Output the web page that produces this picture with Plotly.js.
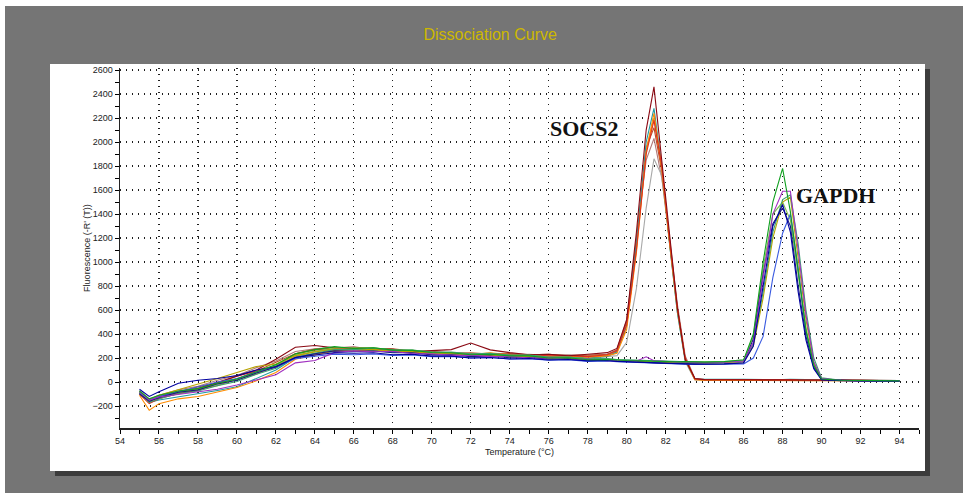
<!DOCTYPE html>
<html>
<head>
<meta charset="utf-8">
<script src="https://cdn.plot.ly/plotly-3.0.1.min.js"></script>
<style>
  html, body { margin: 0; padding: 0; background: #ffffff; }
  #chart { width: 963px; height: 493px; }
</style>
</head>
<body>
<div id="chart"></div>
<script>
// Melt temperatures (°C) shared by every well
const temperature = [55, 55.5, 56, 57, 58, 59, 60, 61, 62, 63, 64, 65, 66, 67, 68, 69, 70, 71, 72, 73, 74, 75, 76, 77, 78, 79,
  79.5, 80, 80.5, 81, 81.4, 81.8, 82.2, 82.6, 83, 83.5, 84, 85, 86,
  86.5, 87, 87.5, 88, 88.4, 88.8, 89.2, 89.6, 90, 91, 92, 93, 94];

// SOCS2 wells, derivative fluorescence -R'(T)
const socs2A = [-90, -160, -120, -80, -55, -5, 45, 100, 190, 290, 305, 285, 292, 276, 272, 255, 262, 270, 325, 268, 245, 228, 232, 218, 232, 245,
  280, 520, 1250, 2100, 2460, 1850, 1200, 620, 190, 30,
  20, 20, 18, 18, 20, 18, 20, 18, 20, 18, 15, 18, 15, 15, 12, 10];
const socs2B = [-100, -180, -140, -95, -70, -15, 25, 90, 130, 235, 268, 285, 278, 282, 262, 258, 246, 244, 232, 238, 226, 228, 218, 220, 212, 228,
  260, 480, 1100, 1900, 2180, 1800, 1180, 620, 200, 25,
  20, 22, 20, 20, 18, 20, 18, 20, 18, 18, 16, 16, 15, 14, 12, 12];
const socs2C = [-110, -235, -180, -140, -120, -80, -45, 10, 80, 190, 225, 262, 258, 272, 255, 252, 240, 245, 230, 244, 226, 224, 212, 216, 208, 218,
  240, 440, 1080, 1920, 2240, 1780, 1160, 600, 190, 20,
  15, 15, 14, 14, 15, 14, 14, 13, 14, 13, 12, 12, 12, 11, 10, 10];
const socs2D = [-80, -170, -150, -125, -95, -70, -40, 30, 100, 205, 235, 255, 252, 268, 250, 254, 236, 236, 222, 236, 220, 222, 206, 212, 200, 214,
  250, 470, 1150, 2000, 2280, 1800, 1150, 580, 180, 25,
  22, 22, 22, 20, 22, 20, 20, 22, 20, 20, 18, 18, 16, 15, 14, 12];
const socs2E = [-70, -140, -120, -75, -55, -5, 25, 80, 125, 215, 240, 260, 254, 262, 248, 248, 234, 234, 220, 224, 212, 214, 200, 204, 196, 208,
  220, 330, 780, 1450, 1860, 1720, 1150, 580, 170, 18,
  15, 15, 15, 14, 15, 14, 14, 14, 13, 13, 12, 12, 12, 11, 10, 10];
const socs2F = [-90, -150, -110, -65, -35, 15, 55, 120, 175, 255, 276, 290, 275, 280, 264, 262, 244, 246, 234, 240, 228, 232, 220, 226, 218, 232,
  270, 520, 1200, 1850, 2030, 1700, 1200, 650, 220, 30,
  20, 20, 18, 18, 18, 18, 17, 18, 17, 17, 16, 16, 15, 14, 13, 12];
const socs2G = [-95, -165, -125, -90, -40, -10, 50, 90, 165, 236, 274, 270, 284, 280, 278, 258, 256, 242, 244, 234, 238, 228, 232, 220, 228, 230,
  265, 500, 1180, 1950, 2120, 1760, 1170, 610, 200, 25,
  18, 18, 18, 17, 18, 17, 17, 17, 16, 16, 15, 15, 14, 13, 12, 12];
const socs2H = [-85, -155, -130, -100, -55, -30, 25, 65, 135, 210, 258, 266, 280, 266, 266, 248, 248, 232, 234, 226, 230, 216, 218, 208, 216, 220,
  255, 470, 1120, 1940, 2200, 1790, 1170, 600, 190, 22,
  18, 18, 17, 17, 17, 16, 16, 16, 16, 15, 15, 14, 14, 13, 12, 11];

// GAPDH wells
const gapdhA = [-75, -140, -110, -75, -55, -10, 25, 85, 145, 235, 270, 295, 280, 286, 266, 264, 246, 244, 228, 232, 218, 218, 200, 202, 186, 188,
  182, 180, 178, 175, 176, 172, 170, 168, 170, 168, 166, 170, 185,
  400, 1000, 1500, 1780, 1420, 900, 430, 140, 25,
  15, 12, 10, 10];
const gapdhB = [-80, -150, -125, -105, -80, -60, -25, 20, 60, 160, 180, 245, 260, 252, 256, 236, 236, 222, 224, 212, 214, 200, 202, 188, 192, 178,
  180, 176, 174, 210, 178, 172, 168, 166, 165, 163, 162, 165, 175,
  330, 850, 1400, 1590, 1590, 1100, 560, 170, 30,
  14, 12, 10, 10];
const gapdhC = [-60, -120, -80, -10, 15, 30, 55, 100, 130, 205, 225, 244, 240, 244, 228, 232, 216, 216, 200, 204, 192, 196, 184, 188, 176, 180,
  172, 168, 165, 160, 158, 155, 152, 150, 150, 148, 148, 150, 158,
  300, 800, 1300, 1480, 1250, 750, 350, 110, 20,
  12, 10, 10, 8];
const gapdhD = [-90, -150, -120, -80, -45, 0, 30, 85, 125, 195, 215, 232, 228, 234, 222, 226, 212, 214, 200, 204, 192, 194, 182, 186, 172, 176,
  170, 166, 162, 160, 158, 154, 150, 150, 148, 147, 146, 148, 150,
  200, 380, 870, 1240, 1400, 950, 420, 130, 25,
  14, 12, 10, 10];
const gapdhE = [-85, -145, -110, -65, -20, 30, 80, 130, 150, 220, 250, 275, 268, 272, 256, 254, 236, 236, 222, 226, 212, 214, 198, 200, 186, 188,
  180, 176, 172, 170, 168, 165, 163, 160, 160, 158, 158, 162, 170,
  300, 700, 1200, 1500, 1540, 1050, 520, 160, 30,
  14, 12, 11, 10];
const gapdhF = [-100, -160, -130, -85, -65, -15, 15, 75, 125, 205, 236, 260, 256, 259, 244, 244, 226, 226, 212, 216, 202, 204, 191, 194, 182, 184,
  175, 170, 166, 163, 160, 158, 156, 154, 152, 150, 150, 152, 160,
  360, 900, 1320, 1450, 1300, 800, 380, 120, 20,
  12, 10, 10, 9];
const gapdhG = [-90, -170, -140, -95, -75, -30, 5, 65, 115, 205, 240, 270, 270, 284, 266, 266, 250, 250, 236, 240, 224, 224, 208, 209, 194, 196,
  188, 185, 182, 178, 176, 174, 172, 170, 168, 166, 165, 168, 178,
  320, 750, 1250, 1520, 1560, 1150, 600, 200, 35,
  15, 12, 10, 10];
const gapdhH = [-80, -155, -125, -85, -60, -15, 20, 80, 135, 225, 258, 285, 286, 286, 268, 266, 246, 246, 232, 236, 222, 222, 206, 208, 194, 194,
  186, 182, 180, 176, 174, 172, 170, 168, 168, 166, 165, 170, 180,
  380, 950, 1400, 1500, 1350, 900, 450, 150, 25,
  14, 12, 10, 10];

const wells = [
  { y: socs2F, color: '#b07a7a' },
  { y: socs2E, color: '#a8a8a8' },
  { y: socs2G, color: '#b5502a' },
  { y: socs2H, color: '#d8902a' },
  { y: socs2D, color: '#1e9aa2' },
  { y: socs2C, color: '#ff8c00' },
  { y: socs2B, color: '#e0301e' },
  { y: socs2A, color: '#8b0a14' },
  { y: gapdhH, color: '#7cbf4a' },
  { y: gapdhE, color: '#b8a400' },
  { y: gapdhG, color: '#3aa070' },
  { y: gapdhD, color: '#3a5ae0' },
  { y: gapdhF, color: '#1a1a80' },
  { y: gapdhB, color: '#a030c0' },
  { y: gapdhC, color: '#0000a0' },
  { y: gapdhA, color: '#10a020' }
];

const traces = wells.map(w => ({
  x: temperature,
  y: w.y,
  type: 'scatter',
  mode: 'lines',
  line: { color: w.color, width: 1.1 },
  hoverinfo: 'x+y',
  showlegend: false
}));

// plot area spans 120..919 px horizontally, 68..428 px vertically
const px = v => (v - 120) / 799;
const py = v => (428 - v) / 360;

const layout = {
  width: 963,
  height: 493,
  margin: { l: 120, r: 44, t: 68, b: 65 },
  paper_bgcolor: '#ffffff',
  plot_bgcolor: '#9cc8d7',
  font: { family: 'Liberation Sans, Arial, sans-serif', color: '#222222', size: 9 },
  title: {
    text: 'Dissociation Curve',
    font: { family: 'Liberation Sans, Arial, sans-serif', size: 16, color: '#cdb800' },
    x: 0.509, xref: 'container', xanchor: 'center',
    y: 1 - 34 / 493, yref: 'container', yanchor: 'middle'
  },
  xaxis: {
    range: [54, 95],
    tick0: 54, dtick: 2,
    ticks: 'outside', ticklen: 4, tickwidth: 1, tickcolor: '#000',
    minor: { dtick: 1, ticks: 'outside', ticklen: 4, tickcolor: '#000', showgrid: false },
    showline: true, linecolor: '#222', linewidth: 1.5,
    showgrid: true, gridcolor: '#1e1e1e', griddash: '1px,5px', gridwidth: 1.2,
    zeroline: false,
    tickfont: { size: 9, color: '#222' },
    title: { text: 'Temperature (°C)', font: { size: 9, color: '#222' }, standoff: 3 }
  },
  yaxis: {
    range: [-383, 2617],
    tick0: 0, dtick: 200,
    ticks: 'outside', ticklen: 4, tickwidth: 1, tickcolor: '#000',
    minor: { dtick: 100, ticks: 'outside', ticklen: 4, tickcolor: '#000', showgrid: false },
    showline: true, linecolor: '#222', linewidth: 1.5,
    showgrid: true, gridcolor: '#1e1e1e', griddash: '1px,5px', gridwidth: 1.2,
    zeroline: false,
    tickfont: { size: 9, color: '#222' },
    title: { text: "Fluorescence (-R' (T))", font: { size: 9, color: '#222' }, standoff: 0 }
  },
  shapes: [
    { type: 'rect', xref: 'paper', yref: 'paper', layer: 'below',
      x0: px(5), x1: px(963), y0: py(493), y1: py(6),
      fillcolor: '#757575', line: { width: 0 } },
    { type: 'rect', xref: 'paper', yref: 'paper', layer: 'below',
      x0: px(55), x1: px(930), y0: py(476), y1: py(69),
      fillcolor: '#3c3c3c', line: { width: 0 } },
    { type: 'rect', xref: 'paper', yref: 'paper', layer: 'below',
      x0: px(50), x1: px(925), y0: py(471), y1: py(64),
      fillcolor: '#ffffff', line: { width: 0 } }
  ],
  annotations: [
    { text: '<b>SOCS2</b>', x: 77.8, y: 2117, xref: 'x', yref: 'y', showarrow: false,
      font: { family: 'Liberation Serif, Times New Roman, serif', size: 22, color: '#111' } },
    { text: '<b>GAPDH</b>', x: 90.7, y: 1558, xref: 'x', yref: 'y', showarrow: false,
      font: { family: 'Liberation Serif, Times New Roman, serif', size: 22, color: '#111' } }
  ]
};

Plotly.newPlot('chart', traces, layout, { displayModeBar: false, staticPlot: true });
</script>
</body>
</html>
